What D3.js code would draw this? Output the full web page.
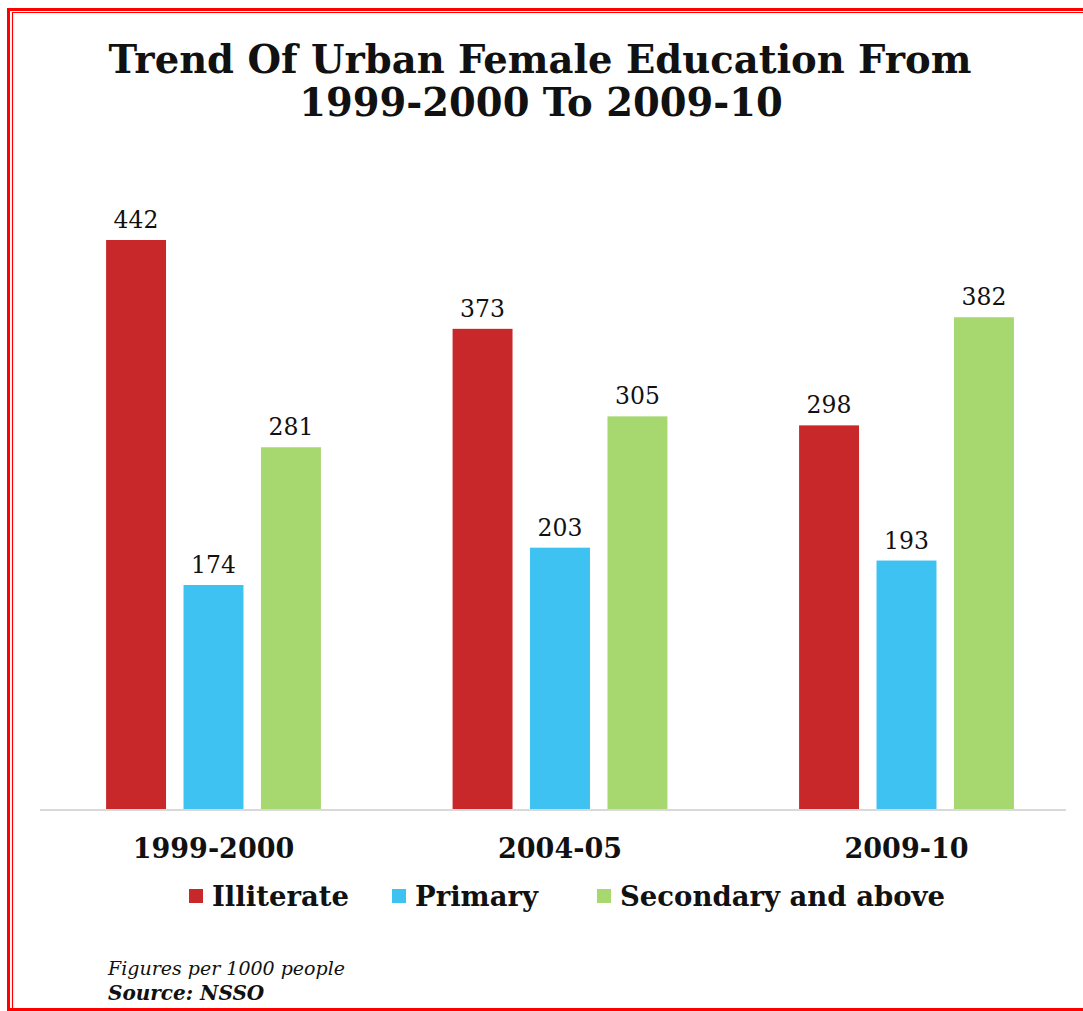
<!DOCTYPE html>
<html><head><meta charset="utf-8">
<script src="https://cdn.jsdelivr.net/npm/d3@7"></script>
<style>html,body{margin:0;padding:0;background:#fff;}svg{display:block;}</style>
</head><body>
<svg id="chart" width="1083" height="1011"></svg>
<script>
const categories = ["1999-2000", "2004-05", "2009-10"];
const seriesNames = ["Illiterate", "Primary", "Secondary and above"];
const illiterate = [442, 373, 298];
const primary = [174, 203, 193];
const secondary = [281, 305, 382];
const colors = ["#C9282A", "#3DC2F1", "#A7D86F"];

const svg = d3.select("#chart");
const font = "'DejaVu Serif', Georgia, serif";

// border
svg.append("rect").attr("x", 8.5).attr("y", 9.5).attr("width", 1090).attr("height", 1000)
  .attr("fill", "none").attr("stroke", "#FF0000").attr("stroke-width", 3);
svg.append("path").attr("d", "M12.5,1009 V12.5 H1083").attr("fill", "none")
  .attr("stroke", "#FF0000").attr("stroke-width", 1.2);

// title
const title = svg.append("text").attr("text-anchor", "middle").attr("font-family", font)
  .attr("font-weight", "bold").attr("font-size", 38.5).attr("fill", "#111");
title.append("tspan").attr("x", 540).attr("y", 73).text("Trend Of Urban Female Education From");
title.append("tspan").attr("x", 541).attr("y", 116).text("1999-2000 To 2009-10");

const series = [illiterate, primary, secondary];
const data = categories.map((c, i) => ({cat: c, vals: series.map((s, j) => ({key: seriesNames[j], v: s[i], j}))}));

const x0 = d3.scaleBand().domain(categories).range([40.25, 1079.75]).paddingInner(0).paddingOuter(0);
const x1 = d3.scaleBand().domain(seriesNames).range([0, x0.bandwidth()]).paddingInner(0.226).paddingOuter(0.85);
const y = d3.scaleLinear().domain([0, 442]).range([809, 240]);

const g = svg.append("g");
const groups = g.selectAll("g.grp").data(data).join("g").attr("class", "grp")
  .attr("transform", d => `translate(${x0(d.cat)},0)`);
groups.selectAll("rect").data(d => d.vals).join("rect")
  .attr("x", d => x1(d.key)).attr("width", x1.bandwidth())
  .attr("y", d => y(d.v)).attr("height", d => y(0) - y(d.v))
  .attr("fill", d => colors[d.j]);
groups.selectAll("text.lbl").data(d => d.vals).join("text").attr("class", "lbl")
  .attr("x", d => x1(d.key) + x1.bandwidth() / 2).attr("y", d => y(d.v) - 12)
  .attr("text-anchor", "middle").attr("font-family", font).attr("font-size", 23.5)
  .attr("fill", "#111").text(d => d.v);

// baseline
svg.append("line").attr("x1", 40).attr("x2", 1066).attr("y1", 810).attr("y2", 810)
  .attr("stroke", "#d9d9d9").attr("stroke-width", 2);

// category axis
const xAxis = d3.axisBottom(x0).tickSize(0).tickPadding(0);
const ax = svg.append("g").attr("transform", "translate(0,832)").call(xAxis);
ax.select(".domain").remove();
ax.selectAll("text").attr("font-family", font).attr("font-weight", "bold")
  .attr("font-size", 27).attr("fill", "#111").attr("dy", "0.95em");

// legend
const legendX = [189, 392, 597];
const lg = svg.append("g").selectAll("g").data(seriesNames).join("g")
  .attr("transform", (d, i) => `translate(${legendX[i]},889)`);
lg.append("rect").attr("width", 14).attr("height", 14).attr("fill", (d, i) => colors[i]);
lg.append("text").attr("x", 23).attr("y", 17).attr("font-family", font).attr("font-weight", "bold")
  .attr("font-size", 27.5).attr("fill", "#111").text(d => d);

// footer
svg.append("text").attr("x", 108).attr("y", 975).attr("font-family", font).attr("font-style", "italic")
  .attr("font-size", 19).attr("fill", "#111").text("Figures per 1000 people");
svg.append("text").attr("x", 108).attr("y", 1000).attr("font-family", font).attr("font-style", "italic")
  .attr("font-weight", "bold").attr("font-size", 20).attr("fill", "#111").text("Source: NSSO");
</script>
</body></html>
